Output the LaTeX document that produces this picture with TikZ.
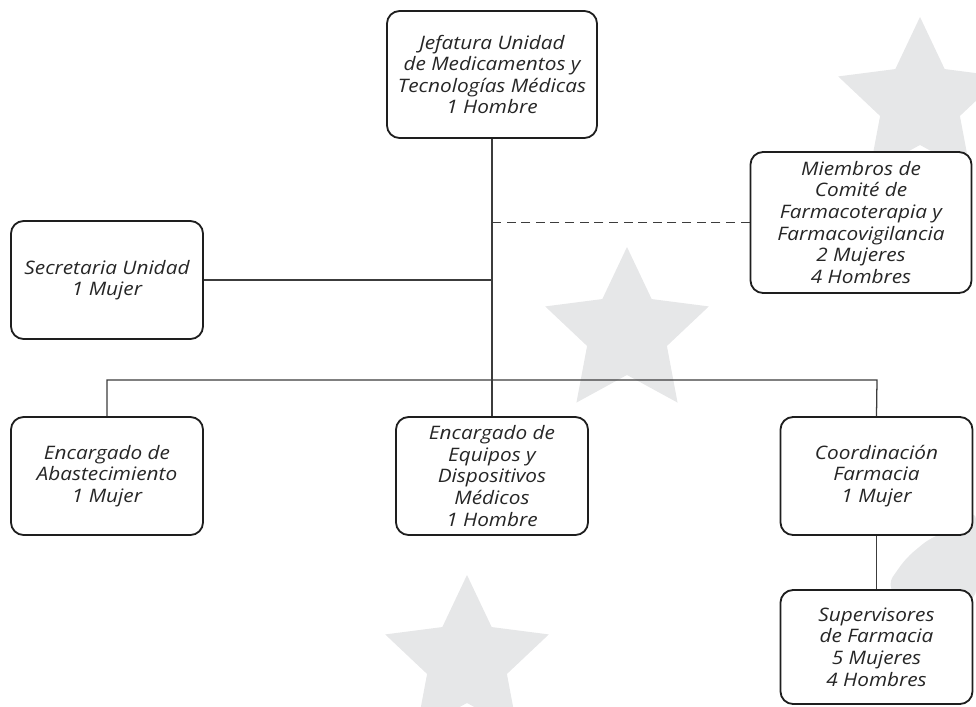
\documentclass[tikz,border=0pt]{standalone}
\usepackage{fontspec}
\setmainfont{Open Sans}[FakeStretch=1.12]
\usepackage{tikz}
\usepackage{xcolor}
\usetikzlibrary{positioning,shapes.geometric,calc}
\definecolor{ink}{HTML}{1E1E1E}
\definecolor{textgray}{HTML}{262626}
\definecolor{linegray}{HTML}{3C3C3C}
\definecolor{stargray}{HTML}{E6E7E8}
\tikzset{
  unitbox/.style={draw=ink,fill=white,line width=1.3pt,rounded corners=9pt,
                  minimum width=4.8cm,minimum height=2.95cm,
                  align=center,inner sep=2pt,text=textgray,
                  font=\itshape\fontsize{13.2}{15.4}\selectfont},
  orgline/.style={draw=linegray,line width=0.9pt},
  advline/.style={draw=linegray,line width=0.9pt,dash pattern=on 6.4pt off 4pt},
  bgstar/.style={star,star points=5,star point ratio=2.05,
                 minimum size=4.3cm,inner sep=0pt,fill=stargray,draw=none}
}

\begin{document}
\begin{tikzpicture}[x=0.025cm,y=-0.025cm]
      \useasboundingbox (0,0) rectangle (976,706);
      \node[bgstar] (starmid) at (627,333) {};
      \node[bgstar] (starlow) at (467,661) {};
      \node[bgstar] (startop) at (920,103) {};
      \fill[stargray,rounded corners=7pt] (976,510) -- (976,600) -- (900,600)
        -- (887,585) -- (906,558) -- (930,538) -- (958,528) -- cycle;

      \coordinate (bus) at (492,380);
      \coordinate (busL) at (107,380);
      \coordinate (busR) at (877,380);

      \node[unitbox,minimum width=5.25cm,minimum height=3.175cm] (jefatura) at (492,74.5)
        {Jefatura Unidad\\de Medicamentos y\\Tecnologías Médicas\\1 Hombre};
      \node[unitbox,minimum width=5.525cm,minimum height=3.525cm] (comite) at (861,222.5)
        {Miembros de\\Comité de\\Farmacoterapia y\\Farmacovigilancia\\2 Mujeres\\4 Hombres};
      \node[unitbox] (secretaria) at (107,280) {Secretaria Unidad\\1 Mujer};
      \node[unitbox] (abast) at (107,476) {Encargado de\\Abastecimiento\\1 Mujer};
      \node[unitbox] (equipos) at (492,476)
        {Encargado de\\Equipos y\\Dispositivos\\Médicos\\1 Hombre};
      \node[unitbox] (coord) at (876.5,476) {Coordinación\\Farmacia\\1 Mujer};
      \node[unitbox,minimum height=2.85cm] (superv) at (876.5,647)
        {Supervisores\\de Farmacia\\5 Mujeres\\4 Hombres};

      \draw[orgline] (jefatura.south) -- (bus);
      \draw[orgline] (secretaria.east) -- (secretaria.east -| bus);
      \draw[advline] (comite.west) -- (comite.west -| bus);
      \draw[orgline] (abast.north) -- (busL) -- (busR) -- (coord.north);
      \draw[orgline] (bus) -- (equipos.north);
      \draw[orgline] (coord.south) -- (superv.north);
    \end{tikzpicture}
\end{document}
